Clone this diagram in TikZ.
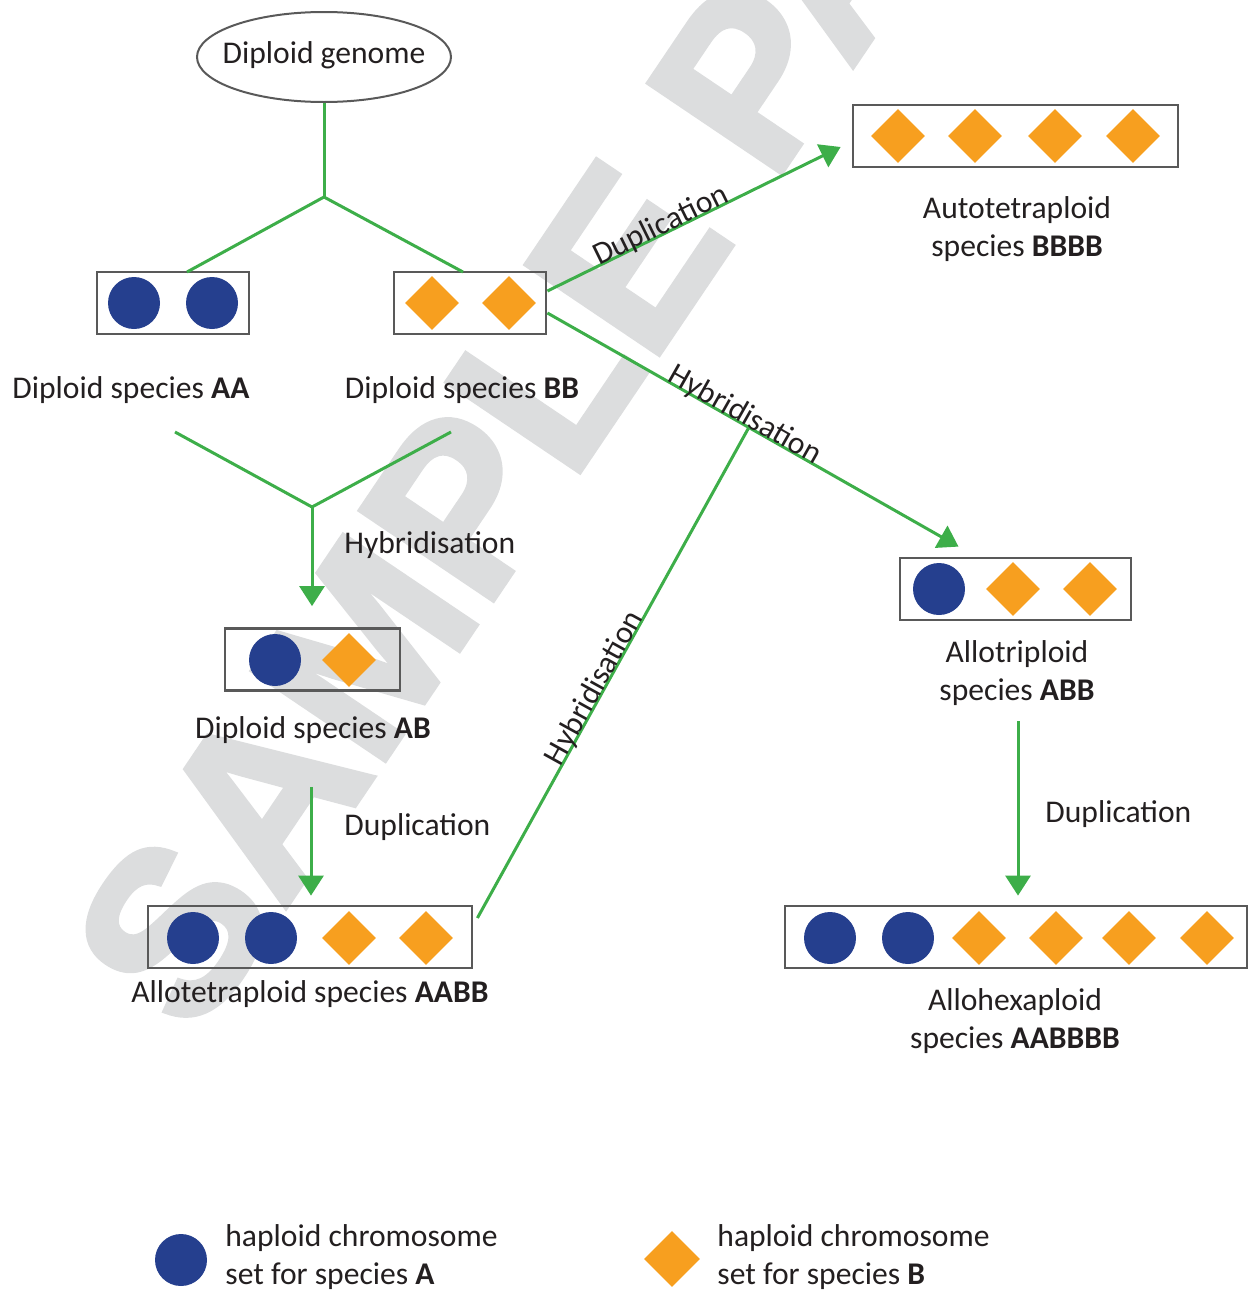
\documentclass[tikz,border=0pt]{standalone}
\usepackage{fontspec}
\setmainfont{Carlito}
\newfontfamily\wmfont[BoldFeatures={FakeBold=2.5}]{Liberation Sans}
\usetikzlibrary{arrows.meta,shapes.geometric,calc}
\definecolor{chromA}{HTML}{253F8E}
\definecolor{chromB}{HTML}{F79F1F}
\definecolor{lgreen}{HTML}{3DAE49}
\definecolor{boxgray}{HTML}{595959}
\definecolor{textc}{HTML}{231F20}
\definecolor{wmgray}{HTML}{DCDDDE}
\tikzset{
  txt/.style={text=textc, font=\fontsize{15.8pt}{18.6pt}\selectfont, inner sep=0pt, align=center},
  chrbox/.style={draw=boxgray, line width=1.4pt, minimum height=31pt, inner sep=0pt},
  chA/.style={circle, fill=chromA, minimum size=26pt, inner sep=0pt},
  chB/.style={diamond, fill=chromB, minimum width=27pt, minimum height=27pt, inner sep=0pt},
  link/.style={draw=lgreen, line width=1.5pt},
  arr/.style={link, -{Triangle[length=10pt,width=12.5pt]}},
  onlbl/.style={txt, sloped, anchor=base},
}
\begin{document}
\begin{tikzpicture}[x=0.5pt,y=-0.5pt]
\useasboundingbox (0,0) rectangle (1248,1290);
\clip (0,0) rectangle (1248,1290);
% watermark
\node[text=wmgray, font=\wmfont\bfseries\fontsize{116pt}{116pt}\selectfont, rotate=56, anchor=base west, inner sep=0pt] (wm) at (196,1040) {SAMPLE PA};

% top ellipse
\node[ellipse, draw=boxgray, line width=1pt, minimum width=127pt, minimum height=45pt, inner sep=0pt] (genome) at (324,57) {};
\node[txt] (genomeT) at (324,55) {Diploid genome};

% boxes
\node[chrbox, minimum width=76pt] (AA) at (173,303) {};
\node[chA] (AA1) at (134,303) {};
\node[chA] (AA2) at (212,303) {};
\node[chrbox, minimum width=76pt] (BB) at (470,303) {};
\node[chB] (BB1) at (432,303) {};
\node[chB] (BB2) at (509,303) {};
\node[chrbox, minimum width=162.5pt] (BBBB) at (1015.5,136) {};
\node[chB] (BBBB1) at (898,136) {};
\node[chB] (BBBB2) at (975,136) {};
\node[chB] (BBBB3) at (1055,136) {};
\node[chB] (BBBB4) at (1133,136) {};
\node[chrbox, minimum width=87.5pt] (AB) at (312.5,659.5) {};
\node[chA] (AB1) at (275,660) {};
\node[chB] (AB2) at (349,660) {};
\node[chrbox, minimum width=162pt] (AABB) at (310,937) {};
\node[chA] (AABB1) at (193,938) {};
\node[chA] (AABB2) at (271,938) {};
\node[chB] (AABB3) at (349,938) {};
\node[chB] (AABB4) at (426,938) {};
\node[chrbox, minimum width=115.5pt] (ABB) at (1015.5,589) {};
\node[chA] (ABB1) at (939,589) {};
\node[chB] (ABB2) at (1013,589) {};
\node[chB] (ABB3) at (1090,589) {};
\node[chrbox, minimum width=231pt] (AABBBB) at (1016,937) {};
\node[chA] (H1) at (830,938) {};
\node[chA] (H2) at (908,938) {};
\node[chB] (H3) at (979,938) {};
\node[chB] (H4) at (1056,938) {};
\node[chB] (H5) at (1129,938) {};
\node[chB] (H6) at (1207,938) {};

% labels
\node[txt, anchor=base] (lAA) at (131,398) {Diploid species \textbf{AA}};
\node[txt, anchor=base] (lBB) at (462,398) {Diploid species \textbf{BB}};
\node[txt] (lBBBB) at (1017,229) {Autotetraploid\\species \textbf{BBBB}};
\node[txt] (lABB) at (1017,673) {Allotriploid\\species \textbf{ABB}};
\node[txt, anchor=base] (lAB) at (313,738) {Diploid species \textbf{AB}};
\node[txt, anchor=base] (lAABB) at (310,1002) {Allotetraploid species \textbf{AABB}};
\node[txt] (lAABBBB) at (1015,1021) {Allohexaploid\\species \textbf{AABBBB}};

% tree from genome
\coordinate (j1) at (324,197);
\coordinate (aaTop) at (187,272);
\coordinate (bbTop) at (463,272);
\draw[link] (genome.south) -- (j1);
\draw[link] (aaTop) -- (j1) -- (bbTop);

% hybridisation AA x BB -> AB
\coordinate (m1) at (175,432);
\coordinate (m2) at (451,432);
\coordinate (mj) at (312,507);
\draw[link] (m1) -- (mj) -- (m2);
\draw[arr] (mj) -- ($(AB.north)+(-0.5,-21)$);
\node[txt, anchor=base west] (hyb1) at (344,553) {Hybridisation};

% duplication AB -> AABB
\draw[arr] ($(AB.south)+(-1.5,95)$) -- ($(AABB.north)+(1,-9)$);
\node[txt, anchor=base west] (dup1) at (344,835) {Duplication};

% duplication BB -> BBBB
\draw[arr] ($(BB.east)+(0,-12)$) -- ($(BBBB.west)+(-11,11)$) node[onlbl, pos=0.4] (dup2) {Duplication};

% hybridisation BB -> ABB
\coordinate (hs) at ($(BB.east)+(0,10)$);
\coordinate (he) at ($(ABB.north)+(-57,-10)$);
\draw[arr] (hs) -- (he) node[onlbl, pos=0.47] (hyb2) {Hybridisation};
\coordinate (hm) at ($(hs)!0.49!(he)$);
\draw[link] ($(AABB.east)+(4,-19)$) -- (hm) node[onlbl, pos=0.46] (hyb3) {Hybridisation};

% duplication ABB -> AABBBB
\draw[arr] ($(ABB.south)+(2.5,100)$) -- ($(AABBBB.north)+(2,-9)$);
\node[txt, anchor=base west] (dup3) at (1045,822) {Duplication};

% legend
\node[chA] (legA) at (181,1260) {};
\node[txt, anchor=west, align=left] (legAt) at (225,1257) {haploid chromosome\\set for species \textbf{A}};
\node[chB, minimum width=28pt, minimum height=28pt] (legB) at (672,1259) {};
\node[txt, anchor=west, align=left] (legBt) at (717,1257) {haploid chromosome\\set for species \textbf{B}};
\end{tikzpicture}
\end{document}
